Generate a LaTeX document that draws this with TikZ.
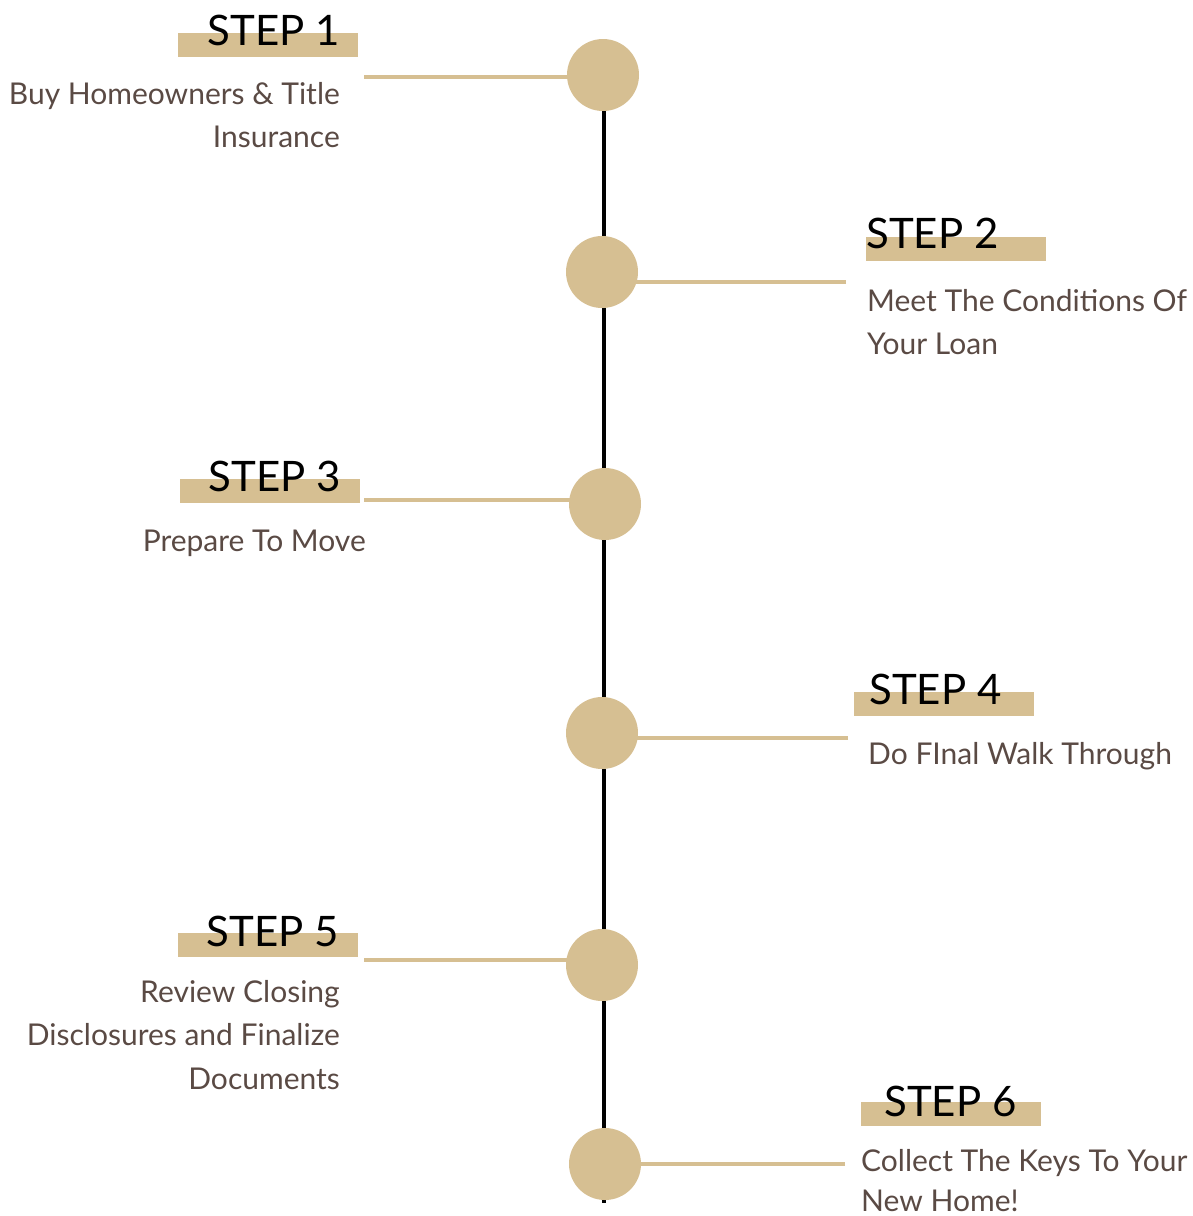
\documentclass[tikz,border=0pt]{standalone}
\usepackage{fontspec}
\setmainfont{Lato}
\definecolor{tanc}{HTML}{D6BF92}
\definecolor{descc}{HTML}{5A4A44}
\tikzset{
  dot/.style={circle, fill=tanc, minimum size=72pt, inner sep=0pt},
  barbox/.style={fill=tanc},
  steptext/.style={font=\fontsize{42}{42}\selectfont, inner sep=0pt, text=black},
  desctext/.style={font=\fontsize{30}{43}\selectfont, text=descc, inner sep=0pt},
  conn/.style={draw=tanc, line width=4pt},
  spine/.style={draw=black, line width=4pt}
}
\begin{document}
\begin{tikzpicture}[x=1pt,y=-1pt]
\useasboundingbox (0,0) rectangle (1192,1216);
% circle centres
\coordinate (p1) at (603,75);
\coordinate (p2) at (602,272);
\coordinate (p3) at (605,504);
\coordinate (p4) at (602,733);
\coordinate (p5) at (602,965);
\coordinate (p6) at (605,1164);
\coordinate (top) at (604,75);
\coordinate (bot) at (604,1203);
\draw[spine] (top) -- (bot);
% connector free ends
\coordinate (e1) at (364,77);
\coordinate (e2) at (846,282);
\coordinate (e3) at (364,500);
\coordinate (e4) at (848,738);
\coordinate (e5) at (364,960);
\coordinate (e6) at (845,1164);
\foreach \i in {1,...,6} \draw[conn] (e\i) -- (e\i -| p\i);
\foreach \i in {1,...,6} \node[dot] (c\i) at (p\i) {};
% bars
\fill[barbox] (178,33) rectangle (358,57);
\fill[barbox] (866,237) rectangle (1046,261);
\fill[barbox] (180,479) rectangle (360,503);
\fill[barbox] (854,692) rectangle (1034,716);
\fill[barbox] (178,933) rectangle (358,957);
\fill[barbox] (861,1102) rectangle (1041,1126);
% step labels
\node[steptext, anchor=base east] (s1) at (340,45) {STEP 1};
\node[steptext, anchor=base west] (s2) at (866,248) {STEP 2};
\node[steptext, anchor=base east] (s3) at (341,491) {STEP 3};
\node[steptext, anchor=base west] (s4) at (869,704) {STEP 4};
\node[steptext, anchor=base east] (s5) at (339,946) {STEP 5};
\node[steptext, anchor=base west] (s6) at (884,1116) {STEP 6};
% descriptions
\node[desctext, anchor=base east] (d1a) at (340,104) {Buy Homeowners \& Title};
\node[desctext, anchor=base east] (d1b) at (340,147) {Insurance};
\node[desctext, anchor=base west] (d2a) at (867,311) {Meet The Conditions Of};
\node[desctext, anchor=base west] (d2b) at (867,354) {Your Loan};
\node[desctext, anchor=base east] (d3a) at (366,551) {Prepare To Move};
\node[desctext, anchor=base west] (d4a) at (868,764) {Do FInal Walk Through};
\node[desctext, anchor=base east] (d5a) at (340,1002) {Review Closing};
\node[desctext, anchor=base east] (d5b) at (340,1045) {Disclosures and Finalize};
\node[desctext, anchor=base east] (d5c) at (340,1089) {Documents};
\node[desctext, anchor=base west] (d6a) at (861,1171) {Collect The Keys To Your};
\node[desctext, anchor=base west] (d6b) at (861,1211) {New Home!};
\end{tikzpicture}
\end{document}
